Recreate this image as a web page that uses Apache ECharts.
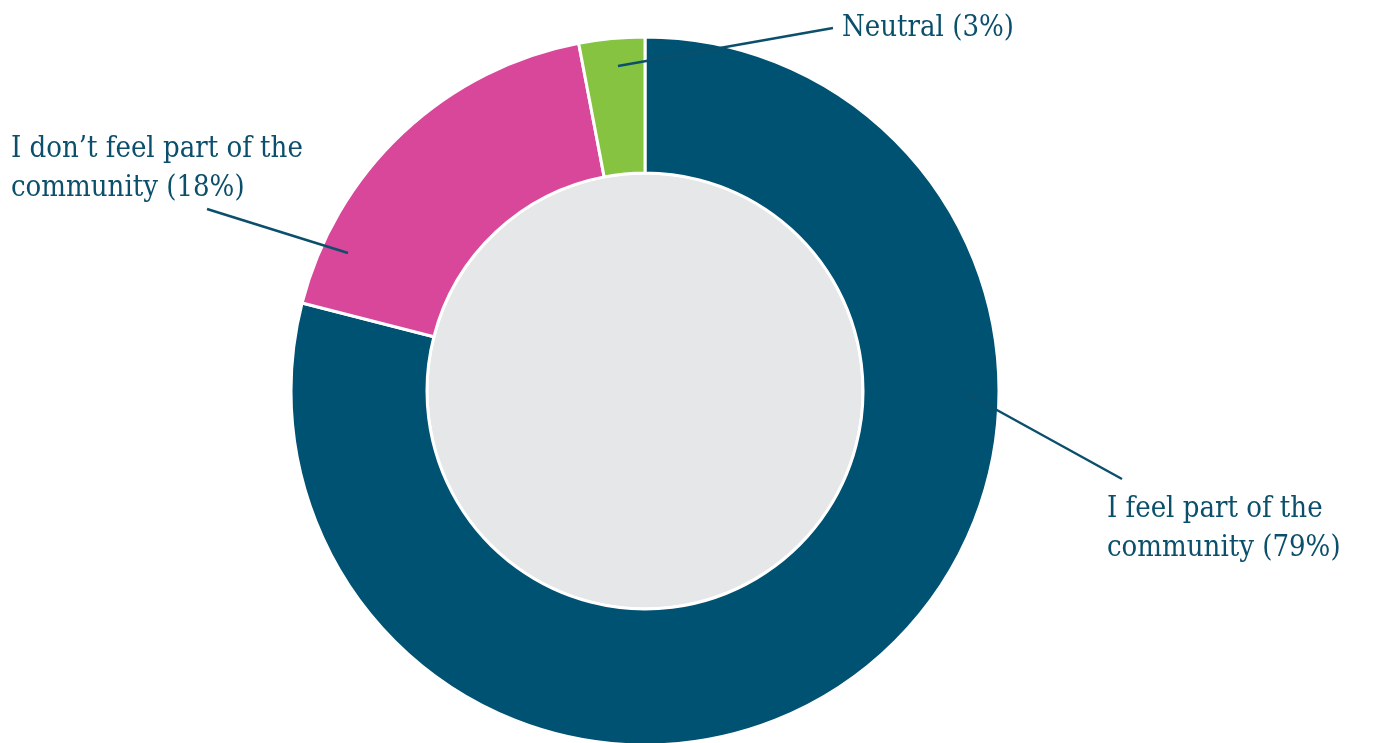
<!DOCTYPE html>
<html>
<head>
<meta charset="utf-8">
<script src="https://cdn.jsdelivr.net/npm/echarts@6/dist/echarts.min.js"></script>
<style>
  html, body { margin: 0; padding: 0; background: #fff; }
  #main { width: 1375px; height: 743px; }
</style>
</head>
<body>
<div id="main"></div>
<script>
// survey answers, clockwise from the top
const categories = ['I feel part of the\ncommunity', 'I don\u2019t feel part of the\ncommunity', 'Neutral'];
const shares = [79, 18, 3];
const colors = ['#005272', '#d9479a', '#86c341'];

// where each label sits and where its leader line starts/ends (px)
const labelSpots = [
  { x: 1107, y: 490, from: [966, 393], to: [1122, 479] },
  { x: 11, y: 130, from: [348, 253], to: [207, 209] },
  { x: 842, y: 9, from: [618, 66], to: [833, 28] }
];

const textColor = '#0b4f6c';
const center = [645, 391];

const chart = echarts.init(document.getElementById('main'));

chart.setOption({
  animation: false,
  series: [
    {
      // grey disc in the hole
      type: 'pie',
      silent: true,
      center: center,
      radius: [0, 218],
      label: { show: false },
      labelLine: { show: false },
      itemStyle: { color: '#e6e7e8', borderColor: '#fff', borderWidth: 3 },
      data: [{ value: 1, name: 'hole' }]
    },
    {
      type: 'pie',
      center: center,
      radius: [218, 354],
      startAngle: 90,
      clockwise: true,
      itemStyle: { borderColor: '#fff', borderWidth: 3 },
      label: {
        show: true,
        position: 'outside',
        formatter: p => p.name + ' (' + p.value + '%)',
        fontFamily: '"DejaVu Serif Condensed", "DejaVu Serif", serif',
        fontSize: 29,
        lineHeight: 39,
        color: textColor,
        align: 'left',
        verticalAlign: 'top'
      },
      labelLine: { show: false },
      labelLayout: function (params) {
        const s = labelSpots[params.dataIndex];
        return { x: s.x, y: s.y, align: 'left', verticalAlign: 'top' };
      },
      data: categories.map((c, i) => ({
        name: c,
        value: shares[i],
        itemStyle: { color: colors[i] }
      }))
    }
  ],
  // leader lines
  graphic: labelSpots.map(s => ({
    type: 'line',
    z: 100,
    silent: true,
    shape: { x1: s.from[0], y1: s.from[1], x2: s.to[0], y2: s.to[1] },
    style: { stroke: textColor, lineWidth: 2.4 }
  }))
});
</script>
</body>
</html>
